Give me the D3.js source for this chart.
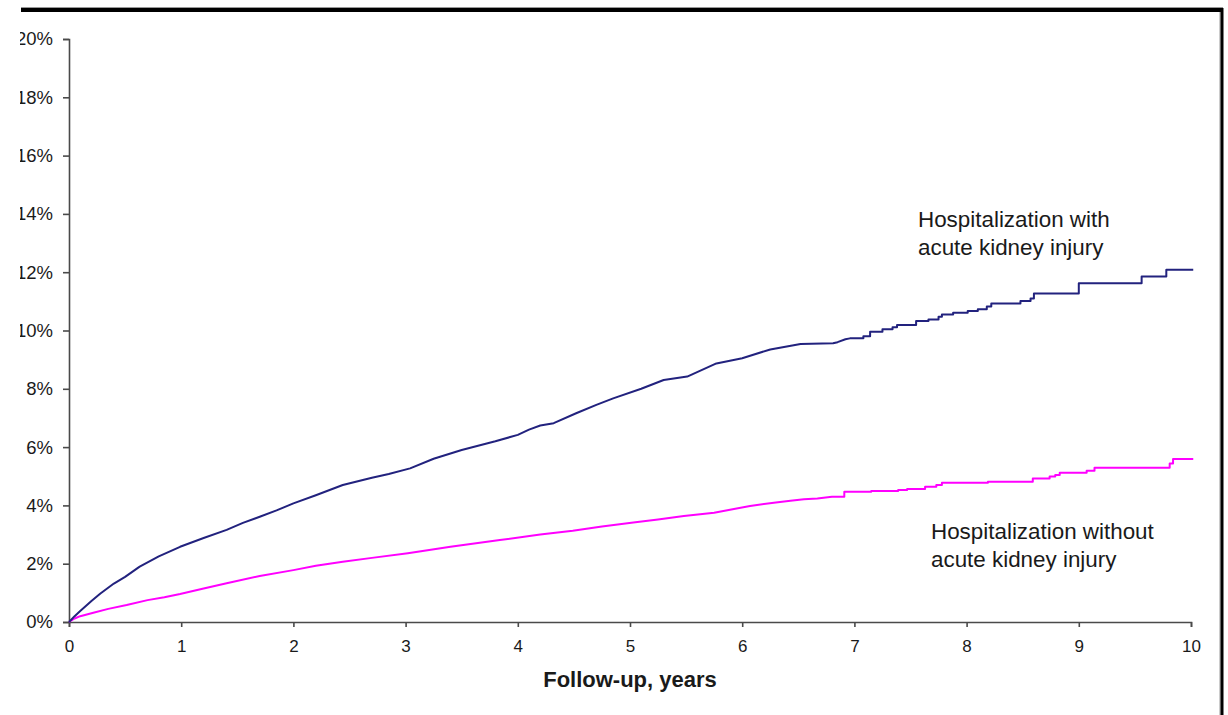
<!DOCTYPE html>
<html>
<head>
<meta charset="utf-8">
<script src="https://cdn.jsdelivr.net/npm/d3@7"></script>
<style>
  html, body { margin: 0; padding: 0; background: #fff; }
  svg { display: block; font-family: Arial, "Liberation Sans", sans-serif; }
</style>
</head>
<body>
<svg id="chart" width="1228" height="715"></svg>
<script>
// ---- Data (years of follow-up, cumulative incidence %) ----
const xTicks = [0, 1, 2, 3, 4, 5, 6, 7, 8, 9, 10];
const yTicks = [0, 2, 4, 6, 8, 10, 12, 14, 16, 18, 20];
const xTitle = "Follow-up, years";

const akiCurve = [
  [0,0],[0.05,0.2],[0.1,0.38],[0.2,0.72],[0.28,0.98],[0.4,1.32],[0.5,1.55],[0.63,1.90],[0.8,2.25],
  [0.99,2.58],[1.2,2.88],[1.405,3.16],[1.55,3.40],[1.7,3.61],[1.85,3.83],[2.0,4.07],[2.2,4.35],
  [2.44,4.70],[2.7,4.95],[2.85,5.08],[3.04,5.27],[3.25,5.60],[3.5,5.90],[3.8,6.20],[4.0,6.42],
  [4.1,6.60],[4.2,6.74],[4.32,6.82],[4.52,7.16],[4.7,7.45],[4.85,7.67],[5.1,8.00],[5.30,8.30],
  [5.51,8.42],[5.77,8.87],[6.0,9.05],[6.25,9.35],[6.52,9.54],[6.81,9.56],[6.85,9.60],[6.92,9.70],
  [6.96,9.73],[7.08,9.73],[7.08,9.80],[7.14,9.80],[7.14,9.96],[7.25,9.96],[7.25,10.04],[7.34,10.04],
  [7.34,10.11],[7.38,10.11],[7.38,10.19],[7.55,10.19],[7.55,10.33],[7.66,10.33],[7.66,10.38],
  [7.75,10.38],[7.75,10.47],[7.78,10.47],[7.78,10.55],[7.88,10.55],[7.88,10.61],[8.01,10.61],
  [8.01,10.67],[8.10,10.67],[8.10,10.73],[8.18,10.73],[8.18,10.82],[8.22,10.82],[8.22,10.93],
  [8.48,10.93],[8.48,11.01],[8.57,11.01],[8.57,11.10],[8.60,11.10],[8.60,11.27],[9.0,11.27],
  [9.0,11.62],[9.56,11.62],[9.56,11.85],[9.78,11.85],[9.78,12.08],[10.02,12.08]
];

const noAkiCurve = [
  [0,0],[0.05,0.12],[0.1,0.2],[0.217,0.32],[0.35,0.45],[0.514,0.58],[0.7,0.75],[0.85,0.85],
  [0.99,0.96],[1.2,1.15],[1.405,1.33],[1.7,1.58],[2.0,1.78],[2.2,1.93],[2.44,2.07],[2.7,2.2],
  [3.02,2.36],[3.4,2.58],[3.84,2.81],[4.2,3.0],[4.49,3.13],[4.75,3.28],[5.03,3.41],[5.25,3.52],
  [5.48,3.64],[5.75,3.75],[6.07,3.98],[6.3,4.1],[6.43,4.16],[6.55,4.21],[6.67,4.24],[6.80,4.30],
  [6.91,4.30],[6.91,4.47],[7.15,4.47],[7.15,4.49],[7.39,4.49],[7.39,4.53],[7.47,4.53],[7.47,4.56],
  [7.63,4.56],[7.63,4.64],[7.73,4.64],[7.73,4.70],[7.78,4.70],[7.78,4.78],[8.19,4.78],[8.19,4.81],
  [8.59,4.81],[8.59,4.92],[8.74,4.92],[8.74,4.99],[8.79,4.99],[8.79,5.04],[8.83,5.04],[8.83,5.12],
  [9.07,5.12],[9.07,5.19],[9.14,5.19],[9.14,5.29],[9.81,5.29],[9.81,5.44],[9.84,5.44],[9.84,5.59],
  [10.02,5.59]
];

const akiLabel = ["Hospitalization with", "acute kidney injury"];
const noAkiLabel = ["Hospitalization without", "acute kidney injury"];

// ---- Drawing ----
const svg = d3.select("#chart");
const x = d3.scaleLinear().domain([0, 10]).range([69, 1191]);
const y = d3.scaleLinear().domain([0, 20]).range([622, 39]);
const axisColor = "#4a4a4a";
const textColor = "#1a1a1a";

// Y axis
const yAxis = svg.append("g")
  .attr("transform", `translate(${x(0)},0)`)
  .call(d3.axisLeft(y).tickValues(yTicks).tickSize(6).tickPadding(10).tickFormat(d => d + "%"));
yAxis.select(".domain").attr("stroke", axisColor).attr("stroke-width", 1.6);
yAxis.selectAll(".tick line").attr("stroke", axisColor).attr("stroke-width", 1.6);
yAxis.selectAll(".tick text").attr("fill", textColor).style("font-size", "18.5px")
  .style("font-family", "Arial, 'Liberation Sans', sans-serif");

// X axis
const xAxis = svg.append("g")
  .attr("transform", `translate(0,${y(0)})`)
  .call(d3.axisBottom(x).tickValues(xTicks).tickSize(5).tickPadding(13).tickFormat(d3.format("d")));
xAxis.select(".domain").attr("stroke", axisColor).attr("stroke-width", 1.6);
xAxis.selectAll(".tick line").attr("stroke", axisColor).attr("stroke-width", 1.6);
xAxis.selectAll(".tick text").attr("fill", textColor).style("font-size", "17px")
  .style("font-family", "Arial, 'Liberation Sans', sans-serif");

// X title
svg.append("text")
  .attr("x", (x(0) + x(10)) / 2)
  .attr("y", 687)
  .attr("text-anchor", "middle")
  .attr("fill", textColor)
  .style("font-size", "22px")
  .style("font-weight", "bold")
  .text(xTitle);

// Curves
const line = d3.line().x(d => x(d[0])).y(d => y(d[1])).curve(d3.curveLinear);
svg.append("path").datum(noAkiCurve)
  .attr("d", line).attr("fill", "none")
  .attr("stroke", "#ff00ff").attr("stroke-width", 2).attr("stroke-linejoin", "round");
svg.append("path").datum(akiCurve)
  .attr("d", line).attr("fill", "none")
  .attr("stroke", "#22227e").attr("stroke-width", 2).attr("stroke-linejoin", "round");

// Annotations
function annot(lines, x0, y0) {
  const t = svg.append("text").attr("fill", textColor).style("font-size", "22.4px");
  lines.forEach((s, i) => {
    t.append("tspan").attr("x", x0).attr("y", y0 + i * 27.6).text(s);
  });
}
annot(akiLabel, 918, 227);
annot(noAkiLabel, 931, 539);

// Left crop mask
svg.append("rect").attr("x", 0).attr("y", 0).attr("width", 20).attr("height", 715).attr("fill", "#fff");

// Frame (top and right border)
svg.append("line").attr("x1", 21).attr("x2", 1223).attr("y1", 7.5).attr("y2", 7.5)
  .attr("stroke", "#999").attr("stroke-width", 1);
svg.append("line").attr("x1", 21).attr("x2", 1222).attr("y1", 10).attr("y2", 10)
  .attr("stroke", "#000").attr("stroke-width", 4);
svg.append("line").attr("x1", 1220).attr("x2", 1220).attr("y1", 12).attr("y2", 715)
  .attr("stroke", "#999").attr("stroke-width", 1);
svg.append("line").attr("x1", 1222).attr("x2", 1222).attr("y1", 8).attr("y2", 715)
  .attr("stroke", "#000").attr("stroke-width", 3);
</script>
</body>
</html>
